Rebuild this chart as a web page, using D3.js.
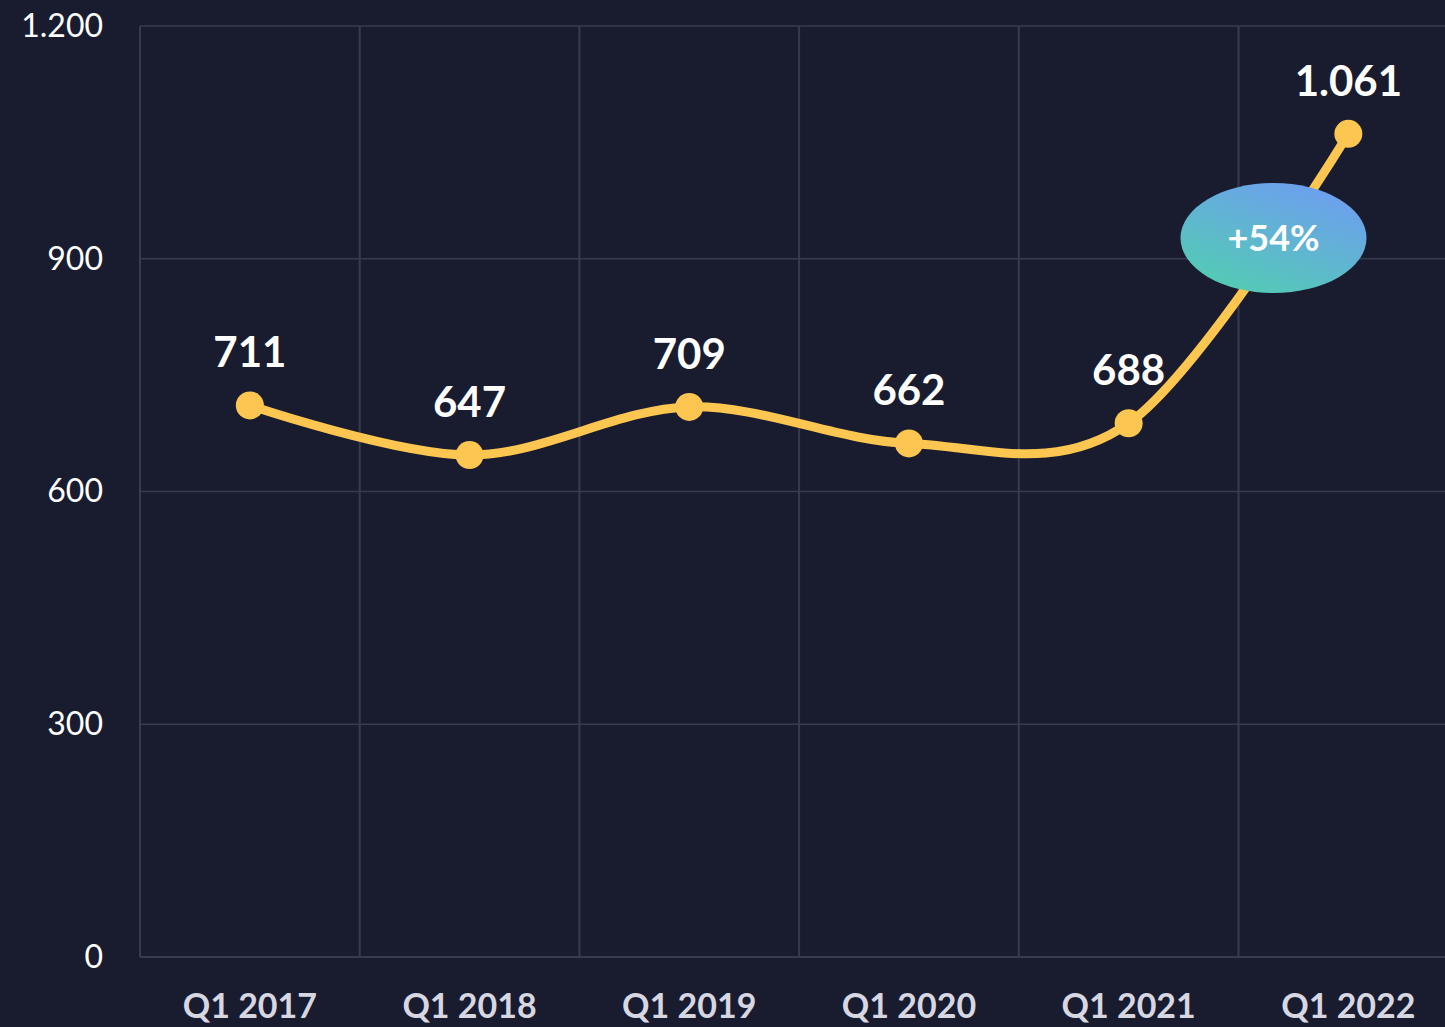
<!DOCTYPE html>
<html>
<head>
<meta charset="utf-8">
<script src="https://cdn.jsdelivr.net/npm/d3@7"></script>
<style>
  html, body { margin: 0; padding: 0; background: #191c2f; }
  svg { display: block; }
  text { font-family: Lato, "Open Sans", sans-serif; }
</style>
</head>
<body>
<svg id="chart" width="1445" height="1027"></svg>
<script>
// data
var quarters = ["Q1 2017", "Q1 2018", "Q1 2019", "Q1 2020", "Q1 2021", "Q1 2022"];
var values = [711, 647, 709, 662, 688, 1061];
var yTicks = [0, 300, 600, 900, 1200];
var growthLabel = "+54%";

var W = 1445, H = 1027;
var plotLeft = 140, plotTop = 26, plotBottom = 957;

var de = d3.formatLocale({decimal: ",", thousands: ".", grouping: [3], currency: ["", "€"]});
var fmt = de.format(",");

var svg = d3.select("#chart");

var x = d3.scaleBand().domain(quarters).range([plotLeft, plotLeft + 6 * 219.7]).padding(0);
var y = d3.scaleLinear().domain([0, 1200]).range([plotBottom, plotTop]);

// gradient for the bubble
var defs = svg.append("defs");
var grad = defs.append("linearGradient")
    .attr("id", "bubbleGrad")
    .attr("x1", "20%").attr("y1", "100%")
    .attr("x2", "80%").attr("y2", "0%");
grad.append("stop").attr("offset", "0%").attr("stop-color", "#52cdb1");
grad.append("stop").attr("offset", "100%").attr("stop-color", "#6e9df2");

// grid
var grid = svg.append("g").attr("class", "grid");
grid.selectAll("line.h")
    .data(yTicks)
    .enter()
    .append("line")
    .attr("class", "h")
    .attr("x1", plotLeft)
    .attr("x2", W)
    .attr("y1", function(d){ return y(d); })
    .attr("y2", function(d){ return y(d); })
    .attr("stroke", "#383a4e")
    .attr("stroke-width", function(d){ return d == 0 ? 2 : 1.5; });

grid.selectAll("line.v")
    .data(quarters)
    .enter()
    .append("line")
    .attr("class", "v")
    .attr("x1", function(d){ return x(d); })
    .attr("x2", function(d){ return x(d); })
    .attr("y1", plotTop)
    .attr("y2", plotBottom)
    .attr("stroke", "#383a4e")
    .attr("stroke-width", 2);

// y axis
var yAxis = d3.axisLeft(y)
    .tickValues(yTicks)
    .tickFormat(fmt)
    .tickSize(0)
    .tickPadding(37);
svg.append("g")
    .attr("class", "axis")
    .attr("transform", "translate(" + plotLeft + ",0)")
    .call(yAxis)
    .call(function(g){ g.select(".domain").remove(); })
    .selectAll("text")
    .attr("fill", "#ffffff")
    .style("font-family", "Lato, sans-serif")
    .style("font-size", "32px");

// x axis
var xAxis = d3.axisBottom(x).tickSize(0).tickPadding(37);
svg.append("g")
    .attr("class", "axis")
    .attr("transform", "translate(0," + plotBottom + ")")
    .call(xAxis)
    .call(function(g){ g.select(".domain").remove(); })
    .selectAll("text")
    .attr("fill", "#d7d7e2")
    .style("font-family", "Lato, sans-serif")
    .style("font-weight", "bold")
    .style("font-size", "34px");

// line
var cx = function(d, i){ return x(quarters[i]) + x.bandwidth() / 2; };
var line = d3.line()
    .x(cx)
    .y(function(d){ return y(d); })
    .curve(d3.curveCatmullRom.alpha(0));

svg.append("path")
    .datum(values)
    .attr("d", line)
    .attr("fill", "none")
    .attr("stroke", "#fdc650")
    .attr("stroke-width", 9)
    .attr("stroke-linecap", "round");

svg.selectAll("circle.pt")
    .data(values)
    .enter()
    .append("circle")
    .attr("class", "pt")
    .attr("cx", cx)
    .attr("cy", function(d){ return y(d); })
    .attr("r", 14)
    .attr("fill", "#fdc650");

svg.selectAll("text.val")
    .data(values)
    .enter()
    .append("text")
    .attr("class", "val")
    .attr("x", cx)
    .attr("y", function(d){ return y(d) - 38; })
    .attr("text-anchor", "middle")
    .attr("fill", "#ffffff")
    .attr("font-weight", "bold")
    .attr("font-size", 42)
    .text(function(d){ return fmt(d); });

// growth bubble between the last two points
var bx = (cx(0, 4) + cx(0, 5)) / 2 + 35;
var by = y(values[4] + (values[5] - values[4]) * 0.64);
svg.append("ellipse")
    .attr("cx", bx)
    .attr("cy", by)
    .attr("rx", 93)
    .attr("ry", 55)
    .attr("fill", "url(#bubbleGrad)");

svg.append("text")
    .attr("x", bx)
    .attr("y", by + 13)
    .attr("text-anchor", "middle")
    .attr("fill", "#ffffff")
    .attr("font-weight", "bold")
    .attr("font-size", 36)
    .text(growthLabel);
</script>
</body>
</html>
